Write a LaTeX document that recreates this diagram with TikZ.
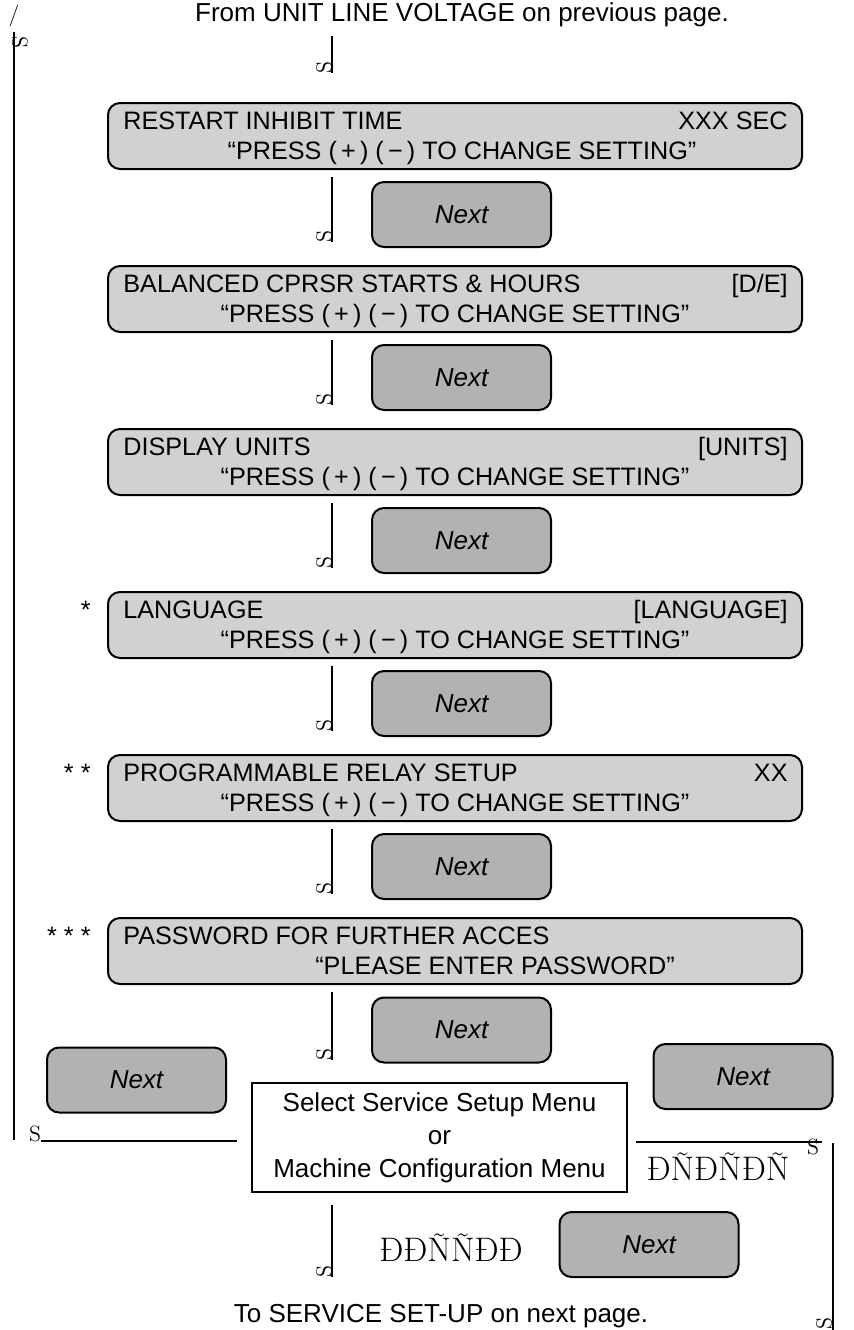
\documentclass[tikz,border=0pt]{standalone}
\usepackage{fontspec}
\usepackage{tikz}
\usetikzlibrary{positioning}
\newfontfamily\arial{Liberation Sans}
\definecolor{boxgray}{gray}{0.82}
\definecolor{nextgray}{gray}{0.70}

\begin{document}
\begin{tikzpicture}[
  x=0.5pt, y=-0.5pt,
  panel/.style={draw, line width=1pt, rounded corners=6pt, fill=boxgray, minimum width=347pt, minimum height=33pt, anchor=north west, inner sep=0pt},
  nextbtn/.style={draw, line width=1pt, rounded corners=6pt, fill=nextgray, minimum width=89.5pt, minimum height=32.5pt, inner sep=0pt, font=\arial\fontsize{13}{15}\selectfont\itshape},
  txt/.style={inner sep=0pt, font=\arial\fontsize{12.6}{15}\selectfont},
  tipS/.style={inner sep=0pt, font=\fontsize{11}{13}\selectfont},
  garbled/.style={inner sep=0pt, font=\fontsize{17}{19}\selectfont},
  wire/.style={line width=1pt}
]
\useasboundingbox (0,0) rectangle (853,1330);

% top of the page
\node[inner sep=0pt, anchor=base, font=\arial\fontsize{13}{15}\selectfont] (fromprev) at (462,21) {From UNIT LINE VOLTAGE on previous page.};
\node[tipS] (slash) at (14,16) {/};
\coordinate (intop) at (332,36);
\coordinate (intopend) at (332,73);
\draw[wire] (intop) -- (intopend);
\node[tipS, rotate=90] (s0) at (324,68) {S};

% setting panels
\node[panel] (restart) at (107,102) {};
\node[txt, anchor=base west] (restartl) at ([shift={(16,27)}]restart.north west) {RESTART INHIBIT TIME};
\node[txt, anchor=base east] (restartr) at ([shift={(-15,27)}]restart.north east) {XXX SEC};
\node[txt, anchor=base] (restartp) at ([shift={(7,57)}]restart.north) {“PRESS (\,+\,) (\,−\,) TO CHANGE SETTING”};

\node[panel] (balanced) at (107,265) {};
\node[txt, anchor=base west] (balancedl) at ([shift={(16,27)}]balanced.north west) {BALANCED CPRSR STARTS \& HOURS};
\node[txt, anchor=base east] (balancedr) at ([shift={(-15,27)}]balanced.north east) {[D/E]};
\node[txt, anchor=base] (balancedp) at ([shift={(0,57)}]balanced.north) {“PRESS (\,+\,) (\,−\,) TO CHANGE SETTING”};

\node[panel] (units) at (107,428) {};
\node[txt, anchor=base west] (unitsl) at ([shift={(16,27)}]units.north west) {DISPLAY UNITS};
\node[txt, anchor=base east] (unitsr) at ([shift={(-15,27)}]units.north east) {[UNITS]};
\node[txt, anchor=base] (unitsp) at ([shift={(0,57)}]units.north) {“PRESS (\,+\,) (\,−\,) TO CHANGE SETTING”};

\node[panel] (language) at (107,591) {};
\node[txt, anchor=base west] (languagel) at ([shift={(16,27)}]language.north west) {LANGUAGE};
\node[txt, anchor=base east] (languager) at ([shift={(-15,27)}]language.north east) {[LANGUAGE]};
\node[txt, anchor=base] (languagep) at ([shift={(0,57)}]language.north) {“PRESS (\,+\,) (\,−\,) TO CHANGE SETTING”};
\node[txt, anchor=base east] (star1) at ([shift={(-16,27)}]language.north west) {*};

\node[panel] (relay) at (107,754) {};
\node[txt, anchor=base west] (relayl) at ([shift={(16,27)}]relay.north west) {PROGRAMMABLE RELAY SETUP};
\node[txt, anchor=base east] (relayr) at ([shift={(-15,27)}]relay.north east) {XX};
\node[txt, anchor=base] (relayp) at ([shift={(0,57)}]relay.north) {“PRESS (\,+\,) (\,−\,) TO CHANGE SETTING”};
\node[txt, anchor=base east] (star2) at ([shift={(-16,27)}]relay.north west) {* *};

\node[panel] (password) at (107,917) {};
\node[txt, anchor=base west] (passwordl) at ([shift={(16,27)}]password.north west) {PASSWORD FOR FURTHER ACCES};
\node[txt, anchor=base] (passwordp) at ([shift={(40,57)}]password.north) {“PLEASE ENTER PASSWORD”};
\node[txt, anchor=base east] (star3) at ([shift={(-16,27)}]password.north west) {* * *};

% next keys and arrows between panels
\node[nextbtn] (next1) at (461.5,214.5) {Next};
\node[nextbtn] (next2) at (461.5,377.5) {Next};
\node[nextbtn] (next3) at (461.5,540.5) {Next};
\node[nextbtn] (next4) at (461.5,703.5) {Next};
\node[nextbtn] (next5) at (461.5,866.5) {Next};
\node[nextbtn] (next6) at (461.5,1030) {Next};

\draw[wire] ([shift={(225,7)}]restart.south west) -- ([shift={(225,-23)}]balanced.north west);
\node[tipS, rotate=90] (s1) at ([shift={(217,-28)}]balanced.north west) {S};
\draw[wire] ([shift={(225,7)}]balanced.south west) -- ([shift={(225,-23)}]units.north west);
\node[tipS, rotate=90] (s2) at ([shift={(217,-28)}]units.north west) {S};
\draw[wire] ([shift={(225,7)}]units.south west) -- ([shift={(225,-23)}]language.north west);
\node[tipS, rotate=90] (s3) at ([shift={(217,-28)}]language.north west) {S};
\draw[wire] ([shift={(225,7)}]language.south west) -- ([shift={(225,-23)}]relay.north west);
\node[tipS, rotate=90] (s4) at ([shift={(217,-28)}]relay.north west) {S};
\draw[wire] ([shift={(225,7)}]relay.south west) -- ([shift={(225,-23)}]password.north west);
\node[tipS, rotate=90] (s5) at ([shift={(217,-28)}]password.north west) {S};
\coordinate (selin) at (332,1060);
\draw[wire] ([shift={(225,7)}]password.south west) -- (selin);
\node[tipS, rotate=90] (s6) at (324,1055) {S};

% menu choice
\node[draw, line width=1pt, minimum width=187.5pt, minimum height=54.5pt, inner sep=0pt, align=center, font=\arial\fontsize{13}{16.5}\selectfont] (select) at (439.5,1137.5) {Select Service Setup Menu\\or\\Machine Configuration Menu};
\node[nextbtn] (nextleft) at (136.5,1080) {Next};
\node[nextbtn] (nextright) at (743,1076.5) {Next};
\node[nextbtn] (nextdown) at (649,1244.5) {Next};

% back to the top
\coordinate (backfoot) at (14,1140);
\coordinate (backtop) at (14,32);
\draw[wire] (backfoot) -- (backtop);
\node[tipS, rotate=-90] (sback) at (20,42) {S};
\node[tipS] (sleft) at (35,1134) {S};
\draw[wire] ([xshift=-7pt]select.west |- 0,1141) -- (sleft.east |- 0,1141);

% onward to machine configuration
\coordinate (rightcorner) at (833,1143);
\draw[wire] ([xshift=4pt]select.east |- 0,1142) -- (822,1142);
\node[tipS] (sright) at (813,1147) {S};
\node[garbled] (dnright) at (718,1167) {ĐÑĐÑĐÑ};
\draw[wire] (rightcorner) -- (833,1330);
\node[tipS, rotate=90] (sdownright) at (824,1323) {S};

% onward to service setup
\coordinate (svc) at (332,1205);
\coordinate (svcend) at (332,1277);
\draw[wire] (svc) -- (svcend);
\node[tipS, rotate=90] (sdown) at (324,1271) {S};
\node[garbled] (dnleft) at (451,1248) {ĐĐÑÑĐĐ};
\node[inner sep=0pt, anchor=base, font=\arial\fontsize{13}{15}\selectfont] (tonext) at (441,1322) {To SERVICE SET-UP on next page.};
\end{tikzpicture}
\end{document}
